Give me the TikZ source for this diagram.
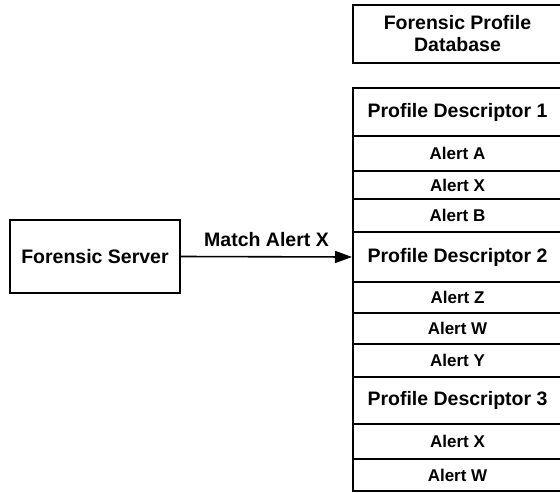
\documentclass[tikz,border=0pt]{standalone}
\usepackage{fontspec}
\setmainfont{Liberation Sans}
\usetikzlibrary{arrows.meta}
\begin{document}
\begin{tikzpicture}[x=1pt,y=-1pt,
  box/.style={draw=black, line width=2pt, inner sep=0pt, font=\fontsize{19.5}{22}\selectfont\bfseries},
  colrow/.style={draw=black, line width=2pt, inner sep=0pt, minimum width=209pt, font=\fontsize{19.5}{22}\selectfont\bfseries},
  alertrow/.style={colrow, font=\fontsize{17}{19}\selectfont\bfseries},
  conn/.style={line width=1.6pt, -{Triangle[length=17pt,width=12pt]}}]
\useasboundingbox (0,0) rectangle (560,493);
\clip (0,0) rectangle (560,493);
\fill[white] (0,0) rectangle (560,493);
% database header
\node[box, minimum width=209pt, minimum height=58pt, align=center] (db) at (457.5,34) {Forensic Profile\\Database};
% column rows
\node[colrow, minimum height=48pt] (pd1) at (457.5,112) {Profile Descriptor 1};
\node[alertrow, minimum height=35pt] (a1) at (457.5,153.5) {Alert A};
\node[alertrow, minimum height=28pt] (a2) at (457.5,185) {Alert X};
\node[alertrow, minimum height=33pt] (a3) at (457.5,215.5) {Alert B};
\node[colrow, minimum height=50pt] (pd2) at (457.5,257) {Profile Descriptor 2};
\node[alertrow, minimum height=31pt] (a4) at (457.5,297.5) {Alert Z};
\node[alertrow, minimum height=31pt] (a5) at (457.5,328.5) {Alert W};
\node[alertrow, minimum height=33pt] (a6) at (457.5,360.5) {Alert Y};
\node[colrow, minimum height=47pt] (pd3) at (457.5,400.5) {Profile Descriptor 3};
\node[alertrow, minimum height=35pt] (a7) at (457.5,441.5) {Alert X};
\node[alertrow, minimum height=32pt] (a8) at (457.5,475) {Alert W};
% server
\node[box, minimum width=170pt, minimum height=73pt] (srv) at (95,256.5) {Forensic Server};
\draw[conn] (srv.east) -- node[above=6pt, font=\fontsize{19.5}{22}\selectfont\bfseries] (lbl) {Match Alert X} (pd2.west);
\end{tikzpicture}
\end{document}
